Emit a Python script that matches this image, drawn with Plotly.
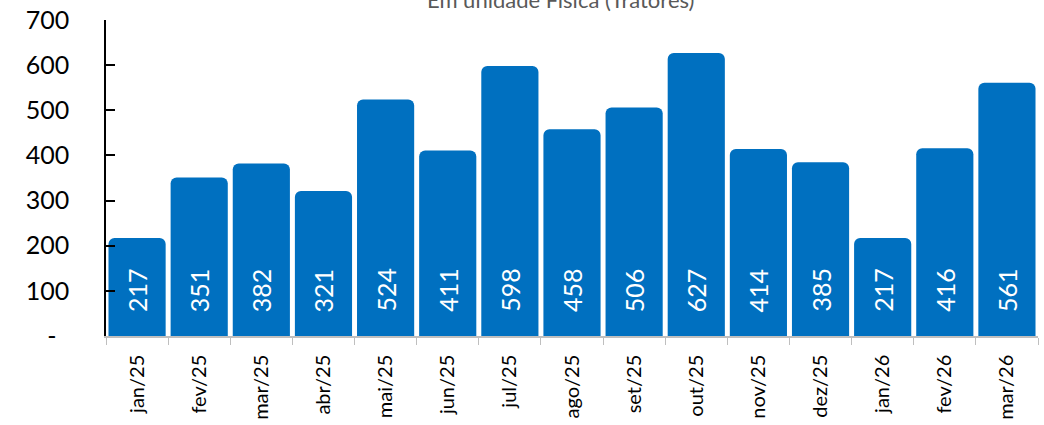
import plotly.graph_objects as go

months = ["jan/25", "fev/25", "mar/25", "abr/25", "mai/25", "jun/25", "jul/25", "ago/25",
          "set/25", "out/25", "nov/25", "dez/25", "jan/26", "fev/26", "mar/26"]
values = [217, 351, 382, 321, 524, 411, 598, 458, 506, 627, 414, 385, 217, 416, 561]
y_ticks = [0, 100, 200, 300, 400, 500, 600, 700]
y_ticktext = ["-\u00a0\u00a0", "100", "200", "300", "400", "500", "600", "700"]
title_text = "Em unidade Física (Tratores)"

FONT = "Lato"
fig = go.Figure()
fig.add_trace(go.Bar(
    x=months, y=values,
    marker=dict(color="#0070C0", cornerradius=6, line=dict(width=0)),
    hoverinfo="x+y",
))

for m, v in zip(months, values):
    fig.add_annotation(x=m, y=0, xref="x", yref="y", text=str(v), showarrow=False,
                       textangle=-90, yanchor="bottom", yshift=22,
                       font=dict(family=FONT, size=25, color="white"))

fig.add_annotation(x=0.488, y=1.066, xref="paper", yref="paper", text=title_text,
                   showarrow=False, xanchor="center", yanchor="middle",
                   font=dict(family=FONT, size=22, color="#595959"))

fig.update_layout(
    width=1044, height=425,
    margin=dict(l=106, r=6, t=20, b=89, autoexpand=False),
    paper_bgcolor="white", plot_bgcolor="white",
    bargap=0.08, showlegend=False,
    font=dict(family=FONT, color="black"),
)
fig.update_xaxes(
    type="category", tickson="boundaries", ticks="outside", ticklen=7, tickcolor="#BFBFBF",
    showline=True, linecolor="#BFBFBF", linewidth=1.5, tickangle=-90,
    tickfont=dict(family=FONT, size=20, color="black"), ticklabelstandoff=9,
    showgrid=False, zeroline=False, automargin=False,
)
fig.update_yaxes(
    range=[0, 700], tickmode="array", tickvals=y_ticks, ticktext=y_ticktext,
    ticks="inside", ticklen=9, tickwidth=1.5, tickcolor="black",
    showline=True, linecolor="black", linewidth=1.5, ticklabeloverflow="allow",
    tickfont=dict(family=FONT, size=25, color="black"), ticklabelstandoff=30,
    showgrid=False, zeroline=False, automargin=False,
)
fig.write_html("out.html", config={"displayModeBar": False},
               post_script="document.body.style.margin='0px';")
